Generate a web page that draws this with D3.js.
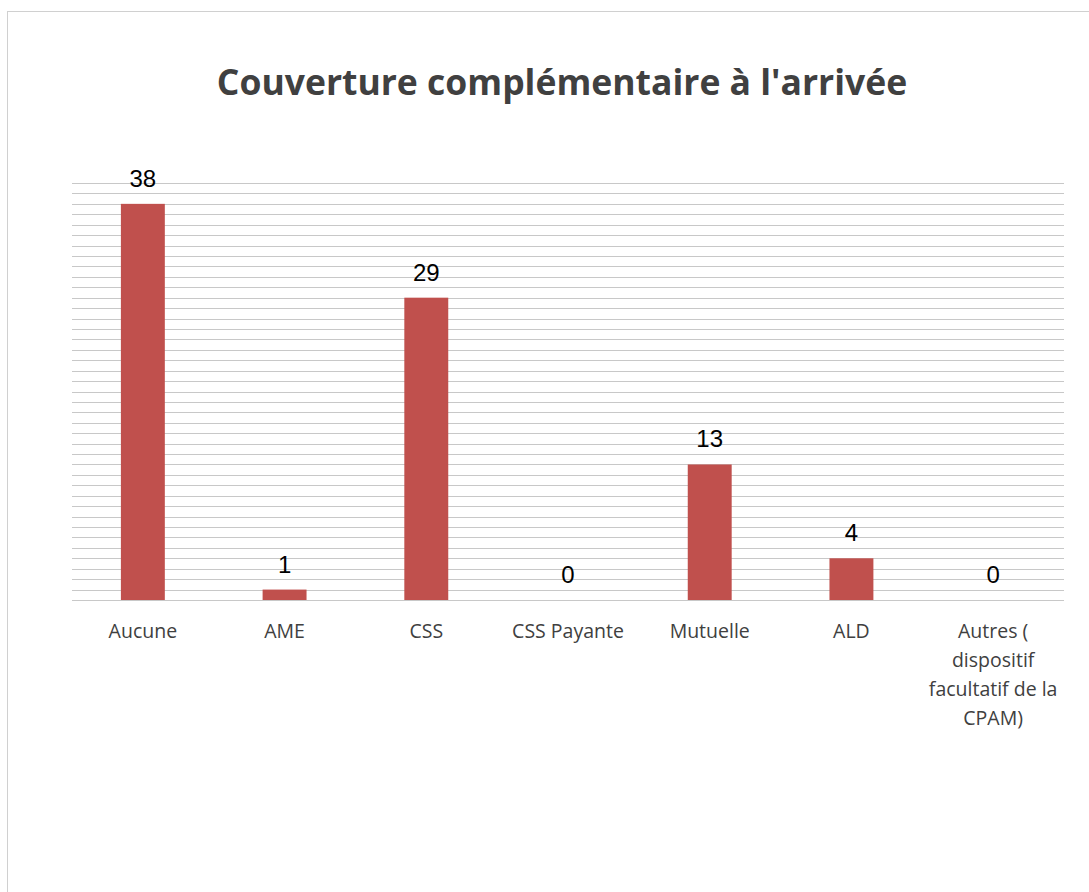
<!DOCTYPE html>
<html>
<head>
<meta charset="utf-8">
<script src="https://cdn.jsdelivr.net/npm/d3@7"></script>
<style>
  body { margin: 0; background: #fff; }
  svg { display: block; }
</style>
</head>
<body>
<div id="chart"></div>
<script>
const categories = ["Aucune", "AME", "CSS", "CSS Payante", "Mutuelle", "ALD", "Autres ( dispositif facultatif de la CPAM)"];
const values = [38, 1, 29, 0, 13, 4, 0];
const categoryLines = [["Aucune"], ["AME"], ["CSS"], ["CSS Payante"], ["Mutuelle"], ["ALD"], ["Autres (", "dispositif", "facultatif de la", "CPAM)"]];
const yMax = 40;

const W = 1089, H = 892;
const margin = {top: 183, right: 25, bottom: 292, left: 72};
const width = W - margin.left - margin.right,
    height = H - margin.top - margin.bottom;

const svg = d3.select("#chart").append("svg")
    .attr("width", W)
    .attr("height", H);

// chart border
svg.append("rect")
    .attr("x", 7.5).attr("y", 11.5)
    .attr("width", W).attr("height", H)
    .attr("fill", "none")
    .attr("stroke", "#d0d0d0");

// title
svg.append("text")
    .attr("x", 562).attr("y", 95)
    .attr("text-anchor", "middle")
    .attr("font-family", "'Open Sans', sans-serif")
    .attr("font-weight", "bold")
    .attr("font-size", 35.5)
    .attr("fill", "#404040")
    .text("Couverture complémentaire à l'arrivée");

const g = svg.append("g")
    .attr("transform", "translate(" + margin.left + "," + margin.top + ")");

const x = d3.scaleBand().domain(categories).range([0, width]).padding(0);
const y = d3.scaleLinear().domain([0, yMax]).range([height, 0]);

// gridlines every unit
g.append("g")
    .selectAll("line")
    .data(d3.range(0, yMax + 1))
    .enter().append("line")
    .attr("x1", 0).attr("x2", width)
    .attr("y1", d => Math.round(y(d)) + 0.5)
    .attr("y2", d => Math.round(y(d)) + 0.5)
    .attr("stroke", "#c8c8c8")
    .attr("stroke-width", 1);

const barW = x.bandwidth() * 0.31;

g.selectAll(".bar")
    .data(values)
    .enter().append("rect")
    .attr("class", "bar")
    .attr("x", (d, i) => x(categories[i]) + (x.bandwidth() - barW) / 2)
    .attr("y", d => y(d))
    .attr("width", barW)
    .attr("height", d => height - y(d))
    .attr("fill", "#c0504d");

g.selectAll(".val")
    .data(values)
    .enter().append("text")
    .attr("class", "val")
    .attr("x", (d, i) => x(categories[i]) + x.bandwidth() / 2)
    .attr("y", d => y(d) - 17)
    .attr("text-anchor", "middle")
    .attr("font-family", "'Liberation Sans', Arial, sans-serif")
    .attr("font-size", 24)
    .attr("fill", "#000")
    .text(d => d);

// category labels
const xAxis = g.append("g")
    .attr("transform", "translate(0," + height + ")");
categoryLines.forEach((lines, i) => {
    const t = xAxis.append("text")
        .attr("x", x(categories[i]) + x.bandwidth() / 2)
        .attr("y", 38)
        .attr("text-anchor", "middle")
        .attr("font-family", "'Open Sans', sans-serif")
        .attr("font-size", 19.5)
        .attr("fill", "#404040");
    lines.forEach((l, j) => {
        t.append("tspan")
            .attr("x", x(categories[i]) + x.bandwidth() / 2)
            .attr("dy", j === 0 ? 0 : 29)
            .text(l);
    });
});
</script>
</body>
</html>
